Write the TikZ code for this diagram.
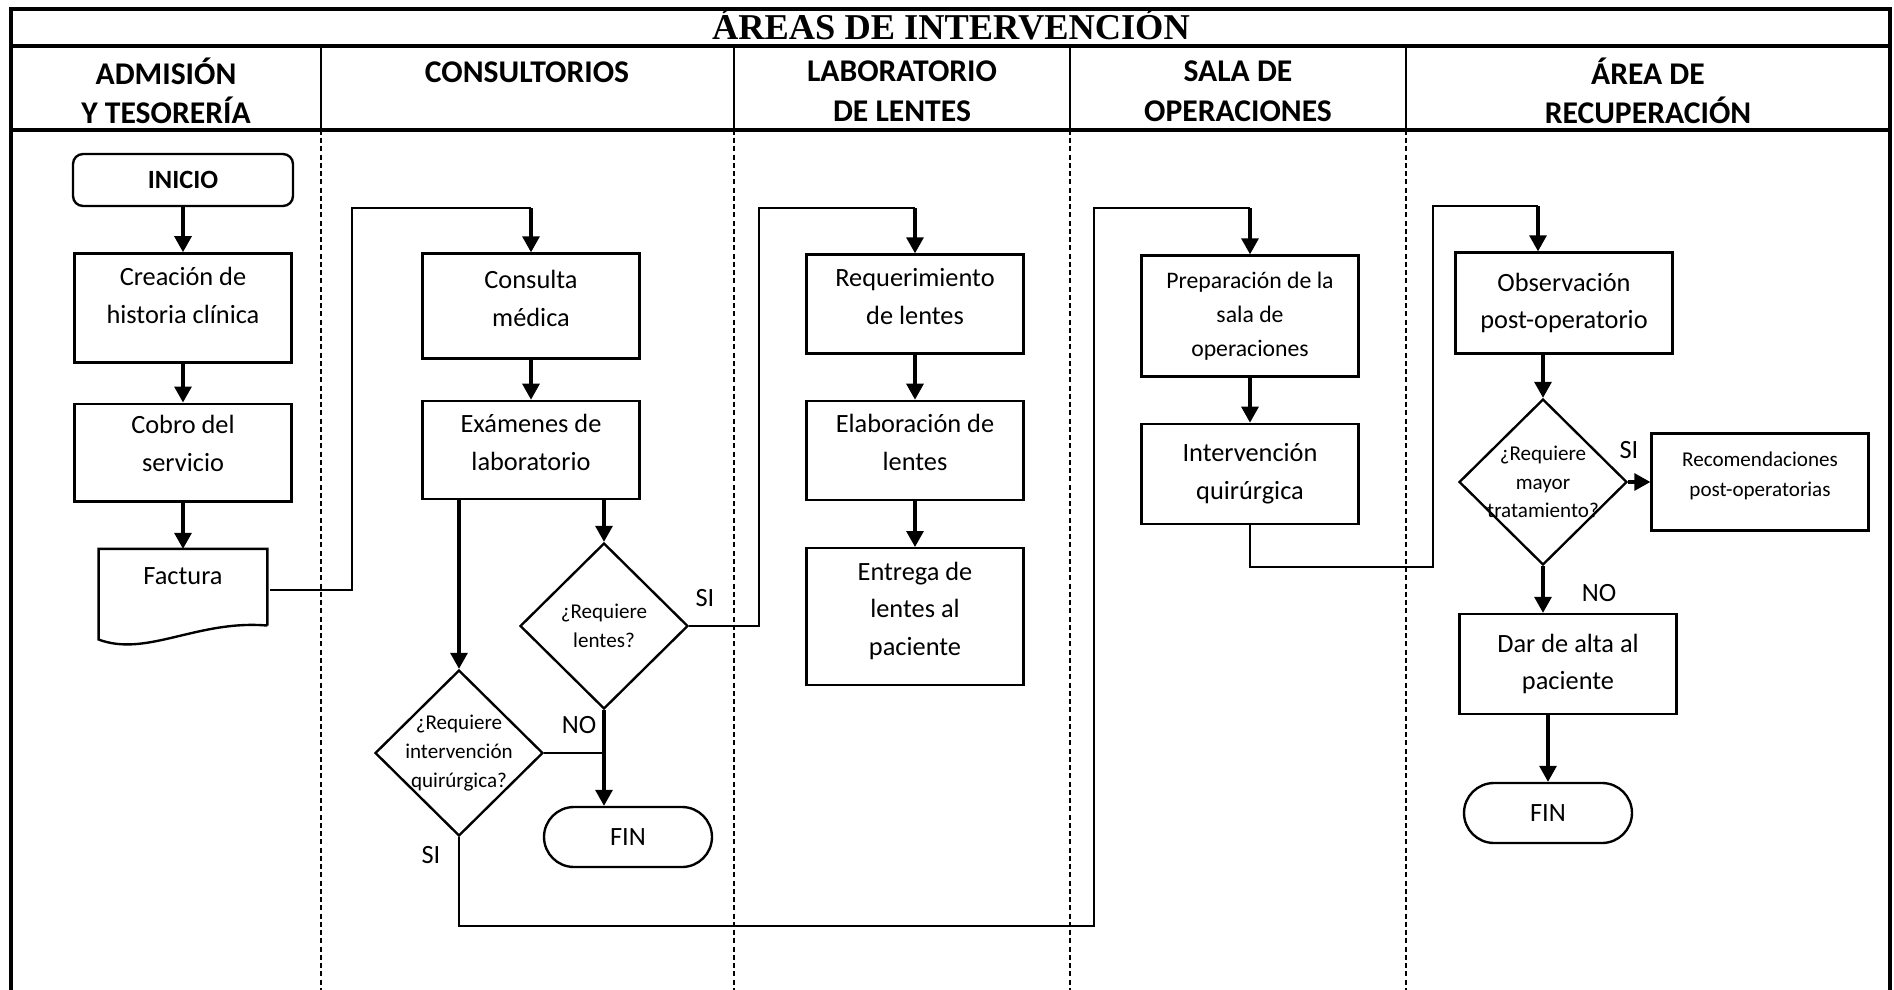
\documentclass[tikz,border=0pt]{standalone}
\usepackage{fontspec}
\setmainfont{Carlito}
\newfontfamily\titlefont{Liberation Serif}
\usepackage{tikz}
\usetikzlibrary{positioning,arrows.meta,shapes.geometric,calc}

\tikzstyle{process} = [
rectangle,
draw,
line width=1.35pt,
minimum width=4.34cm,
align=center,
inner sep=2pt,
font=\fontsize{15}{21.5}\selectfont
]
\tikzstyle{start} = [
rectangle,
rounded corners=0.2cm,
draw,
line width=1.35pt,
minimum width=4.4cm,
minimum height=1.04cm,
font=\fontsize{15}{21.5}\selectfont
]
\tikzstyle{terminal} = [
rectangle,
rounded corners=0.6cm,
draw,
line width=1.35pt,
minimum width=3.36cm,
minimum height=1.2cm,
font=\fontsize{15}{21.5}\selectfont
]
\tikzstyle{decision} = [
diamond,
draw,
line width=1.35pt,
minimum width=3.36cm,
minimum height=3.32cm,
inner sep=0pt
]
\tikzstyle{question} = [
align=center,
font=\fontsize{12}{16.4}\selectfont
]
\tikzstyle{header} = [
align=center,
font=\fontsize{18}{22.5}\selectfont\bfseries
]
\tikzstyle{answer} = [font=\fontsize{15}{18}\selectfont]
\tikzstyle{flow} = [line width=1.8pt, -{Triangle[length=0.32cm,width=0.34cm]}]
\tikzstyle{wire} = [line width=1.3pt]
\tikzstyle{lane} = [line width=1.5pt, dash pattern=on 0.1cm off 0.065cm]

\begin{document}
\begin{tikzpicture}[x=0.02cm, y=-0.02cm]
	\useasboundingbox (0,0) rectangle (1894,990);

	% marco, titulo y carriles
	\draw[line width=2pt] (11,990) -- (11,9) -- (1890,9) -- (1890,990);
	\draw[line width=2pt] (11,46) -- (1890,46);
	\draw[line width=2pt] (11,130) -- (1890,130);
	\foreach \x in {321,734,1070,1406} {
		\draw[line width=1.6pt] (\x,46) -- (\x,130);
		\draw[lane] (\x,130) -- (\x,990);
	}
	\node[font=\titlefont\bfseries\fontsize{20.7}{24}\selectfont] (titulo) at (951,24) {ÁREAS DE INTERVENCIÓN};

	\node[header] (h1) at (166,91) {ADMISIÓN\\Y TESORERÍA};
	\node[header] (h2) at (527,72) {CONSULTORIOS};
	\node[header] (h3) at (902,91) {LABORATORIO\\DE LENTES};
	\node[header] (h4) at (1238,91) {SALA DE\\OPERACIONES};
	\node[header] (h5) at (1648,91) {ÁREA DE\\RECUPERACIÓN};

	% admision y tesoreria
	\node[start] (inicio) at (183,180) {\textbf{INICIO}};
	\node[process, minimum height=2.18cm, text depth=0.5cm, below=0.9cm of inicio] (historia) {Creación de\\historia clínica};
	\node[process, minimum height=1.96cm, text depth=0.38cm, below=0.78cm of historia] (cobro) {Cobro del\\servicio};
	\node[minimum width=3.36cm, minimum height=1.52cm, inner sep=0pt, below=0.92cm of cobro] (factura) {};
	\draw[line width=1.35pt] (factura.south east) -- (factura.north east) -- (factura.north west)
		-- ($(factura.south west)+(0,14)$) .. controls ($(factura.south west)+(48,32)$) and ($(factura.south east)+(-70,-6)$) .. (factura.south east);
	\node[font=\fontsize{15}{21.5}\selectfont] (facturatxt) at ($(factura.north)+(0,27)$) {Factura};

	% consultorios
	\node[process, minimum height=2.1cm, text depth=0.3cm] (consulta) at (531,306) {Consulta\\médica};
	\node[process, minimum height=1.96cm, text depth=0.3cm, below=0.8cm of consulta] (examenes) {Exámenes de\\laboratorio};
	\node[decision, label={[question]center:{¿Requiere\\lentes?}}] (dlentes) at (604,626) {};
	\node[decision, label={[question]center:{¿Requiere\\intervención\\quirúrgica?}}] (dinterv) at (459,753) {};
	\node[terminal] (fin1) at (628,837) {FIN};

	% laboratorio de lentes
	\node[process, minimum height=1.98cm, text depth=0.3cm] (requerimiento) at (915,304) {Requerimiento\\de lentes};
	\node[process, minimum height=1.98cm, text depth=0.32cm, below=0.9cm of requerimiento] (elaboracion) {Elaboración de\\lentes};
	\node[process, minimum height=2.74cm, text depth=0.32cm, below=0.92cm of elaboracion] (entrega) {Entrega de\\lentes al\\paciente};

	% sala de operaciones
	\node[process, minimum height=2.42cm, font=\fontsize{13.5}{19.4}\selectfont] (preparacion) at (1250,316) {Preparación de la\\sala de\\operaciones};
	\node[process, minimum height=2cm, below=0.9cm of preparacion] (intervencion) {Intervención\\quirúrgica};

	% area de recuperacion
	\node[process, minimum height=2.02cm] (observacion) at (1564,303) {Observación\\post-operatorio};
	\node[decision, label={[question]center:{¿Requiere\\mayor\\tratamiento?}}] (dmayor) at (1543,482) {};
	\node[process, minimum height=1.94cm, text depth=0.3cm, font=\fontsize{12}{17}\selectfont] (recomend) at (1760,482) {Recomendaciones\\post-operatorias};
	\node[process, minimum height=2cm] (alta) at (1568,664) {Dar de alta al\\paciente};
	\node[terminal] (fin2) at (1548,813) {FIN};

	% flechas
	\draw[flow] (inicio) -- (historia);
	\draw[flow] (historia) -- (cobro);
	\draw[flow] (cobro) -- (factura);

	\coordinate (fac-out) at (270,590);
	\coordinate (con-in) at (531,208);
	\draw[wire] (fac-out) -- (352,590) -- (352,208) -- (con-in);
	\draw[flow] (con-in) -- (consulta);
	\draw[flow] (consulta) -- (examenes);
	\draw[flow] (examenes.south -| dinterv.north) -- (dinterv);
	\draw[flow] (examenes.south -| dlentes.north) -- (dlentes);
	\draw[flow] (dlentes) -- (dlentes.south |- fin1.north);
	\draw[wire] (dinterv.east) -- (dinterv.east -| dlentes.south);

	\coordinate (req-in) at (915,208);
	\draw[wire] (dlentes.east) -- (759,626) -- (759,208) -- (req-in);
	\draw[flow] (req-in) -- (requerimiento);
	\draw[flow] (requerimiento) -- (elaboracion);
	\draw[flow] (elaboracion) -- (entrega);

	\coordinate (prep-in) at (1250,208);
	\draw[wire] (dinterv.south) -- (459,926) -- (1094,926) -- (1094,208) -- (prep-in);
	\draw[flow] (prep-in) -- (preparacion);
	\draw[flow] (preparacion) -- (intervencion);

	\coordinate (obs-in) at (1538,206);
	\draw[wire] (intervencion.south) -- (1250,567) -- (1433,567) -- (1433,206) -- (obs-in);
	\draw[flow] (obs-in) -- (obs-in |- observacion.north);
	\draw[flow] (observacion.south -| dmayor.north) -- (dmayor);
	\draw[flow] (dmayor) -- (recomend);
	\draw[flow] (dmayor) -- (dmayor.south |- alta.north);
	\draw[flow] (alta.south -| fin2.north) -- (fin2);

	\node[answer] (si1) at (705,598) {SI};
	\node[answer] (no1) at (579,725) {NO};
	\node[answer] (si2) at (431,855) {SI};
	\node[answer] (si3) at (1629,450) {SI};
	\node[answer] (no3) at (1599,593) {NO};
\end{tikzpicture}
\end{document}
